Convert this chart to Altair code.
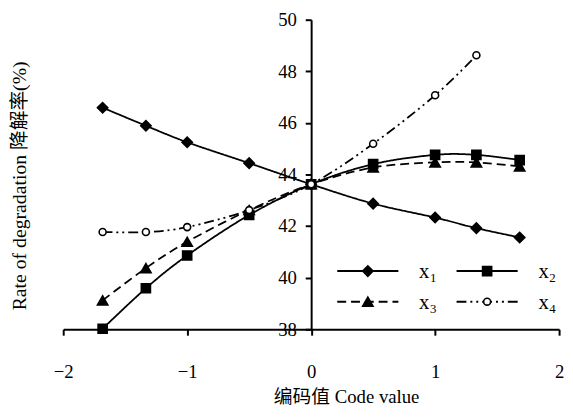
import altair as alt
import pandas as pd

# ---- data ----
code_x = [-1.682, -1.333, -1.0, -0.5, 0.0, 0.5, 1.0, 1.333, 1.682]
x1_vals = [46.59, 45.89, 45.25, 44.44, 43.62, 42.87, 42.33, 41.92, 41.56]
x2_vals = [38.02, 39.59, 40.86, 42.43, 43.62, 44.40, 44.76, 44.76, 44.56]
x3_vals = [39.12, 40.37, 41.39, 42.62, 43.62, 44.27, 44.47, 44.47, 44.31]
x4_vals = [41.77, 41.77, 41.96, 42.62, 43.62, 45.19, 47.07, 48.62]
series_names = ["x1", "x2", "x3", "x4"]
series_subs = ["1", "2", "3", "4"]
y_ticks = [38, 40, 42, 44, 46, 48, 50]
x_ticks = [-2, -1, 0, 1, 2]

FONT = "'Liberation Serif', 'Times New Roman', 'Noto Sans CJK SC', serif"
W, H = 503, 314

rows = []
for name, vals in zip(series_names, [x1_vals, x2_vals, x3_vals, x4_vals]):
    for xv, yv in zip(code_x, vals):
        rows.append({"series": name, "x": xv, "y": yv})
df = pd.DataFrame(rows)

styles = {
    "x1": dict(dash=[1, 0], shape="diamond", size=110, fill="black"),
    "x2": dict(dash=[1, 0], shape="square", size=85, fill="black"),
    "x3": dict(dash=[9, 5], shape="triangle-up", size=110, fill="black"),
    "x4": dict(dash=[10, 4, 2, 4, 2, 4], shape="circle", size=50, fill="white"),
}

xscale = alt.Scale(domain=[-2, 2], nice=False, zero=False)
yscale = alt.Scale(domain=[38, 50], nice=False, zero=False)

xaxis = alt.Axis(
    values=x_ticks, grid=False, domainColor="black", domainWidth=2,
    tickColor="black", tickWidth=2, tickSize=6, labelPadding=28,
    labelFont=FONT, labelFontSize=19, labelColor="black", labelFlush=False,
    labelExpr="replace(datum.label, '-', '\u2212')",
    title="编码值 Code value", titleFont=FONT, titleFontSize=19,
    titleFontWeight="normal", titleColor="black",
    titleX=287, titleY=68, titleAnchor="middle", titleAlign="center",
    titleBaseline="middle",
)
yaxis = alt.Axis(
    values=y_ticks, grid=False, domainColor="black", domainWidth=2,
    tickColor="black", tickWidth=2, tickSize=6, labelPadding=9,
    labelFont=FONT, labelFontSize=19, labelColor="black", labelFlush=False,
    offset=-W / 2, orient="left",
    title="Rate of degradation 降解率(%)", titleFont=FONT, titleFontSize=20,
    titleFontWeight="normal", titleColor="black",
    titleX=-(W / 2) - 44, titleY=168, titleAngle=-90, titleAlign="center",
    titleBaseline="middle",
)

enc_x = alt.X("x:Q", scale=xscale, axis=xaxis)
enc_y = alt.Y("y:Q", scale=yscale, axis=yaxis)

layers = []
for name in series_names:
    st = styles[name]
    base = alt.Chart(df[df.series == name])
    line = base.mark_line(
        color="black", strokeWidth=1.8, strokeDash=st["dash"], interpolate="cardinal"
    ).encode(x=enc_x, y=enc_y)
    pts = base.mark_point(
        shape=st["shape"], size=st["size"], filled=True, fill=st["fill"],
        stroke="black", strokeWidth=1.6, opacity=1,
    ).encode(x=enc_x, y=enc_y)
    layers += [line, pts]

# ---- manual legend (pixel layout inside plot area) ----
leg_col_x = [278, 399]      # line sample start
leg_row_y = [255, 286]
SAMPLE_LEN = 62
LABEL_GAP = 21
one = pd.DataFrame({"k": [0]})
for i, name in enumerate(series_names):
    st = styles[name]
    cx = leg_col_x[i % 2]
    cy = leg_row_y[i // 2]
    ld = alt.Chart(one)
    layers.append(ld.mark_rule(color="black", strokeWidth=2, strokeDash=st["dash"]).encode(
        x=alt.value(cx), x2=alt.value(cx + SAMPLE_LEN), y=alt.value(cy)))
    layers.append(ld.mark_point(
        shape=st["shape"], size=st["size"], filled=True, fill=st["fill"],
        stroke="black", strokeWidth=1.6, opacity=1).encode(
        x=alt.value(cx + SAMPLE_LEN / 2), y=alt.value(cy)))
    lx = cx + SAMPLE_LEN + LABEL_GAP
    layers.append(ld.mark_text(font=FONT, fontSize=21, align="left", baseline="alphabetic",
                               color="black").encode(
        x=alt.value(lx), y=alt.value(cy + 7), text=alt.value("x")))
    layers.append(ld.mark_text(font=FONT, fontSize=13, align="left", baseline="alphabetic",
                               color="black").encode(
        x=alt.value(lx + 11), y=alt.value(cy + 11), text=alt.value(series_subs[i])))

chart = alt.layer(*layers).properties(
    width=W, height=H,
    autosize=alt.AutoSizeParams(type="none"),
    padding={"left": 56, "top": 9, "right": 6, "bottom": 78},
    background="white",
).configure_view(stroke=None).configure_axis(
    labelFont=FONT, titleFont=FONT
)

chart.save("out.html", embed_options={"renderer": "svg", "actions": False})
